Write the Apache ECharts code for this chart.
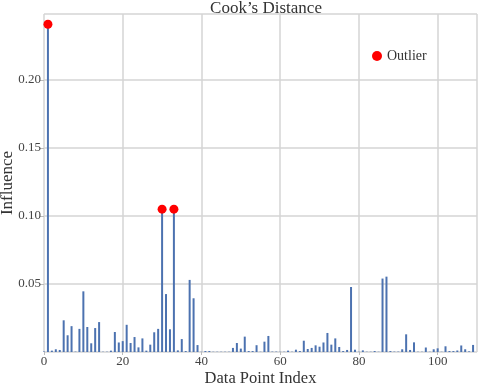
<!DOCTYPE html>
<html>
<head>
<meta charset="utf-8">
<script src="https://cdn.jsdelivr.net/npm/echarts@6/dist/echarts.min.js"></script>
<style>
  html, body { margin: 0; padding: 0; background: #fff; }
  #grafico { width: 480px; height: 384px; }
</style>
</head>
<body>
<div id="grafico"></div>
<script>
// Cook's distance per data point index (0..109)
const influencia = [
  0.0003, 0.241, 0.001, 0.002, 0.0015, 0.0233, 0.0123, 0.019, 0.0003, 0.017,
  0.0446, 0.0184, 0.0064, 0.0176, 0.022, 0.0002, 0.0002, 0.001, 0.0147, 0.007,
  0.008, 0.020, 0.0066, 0.011, 0.0034, 0.010, 0.001, 0.0054, 0.0145, 0.017,
  0.105, 0.0426, 0.0167, 0.105, 0.0012, 0.0095, 0.0007, 0.053, 0.0395, 0.0051,
  0.0002, 0.0007, 0.0007, 0.0002, 0.0002, 0.0002, 0.0002, 0.0002, 0.003, 0.0066,
  0.0025, 0.0113, 0.0007, 0.0007, 0.005, 0.0002, 0.0076, 0.0118, 0.0003, 0.0003,
  0.0002, 0.0002, 0.001, 0.0002, 0.0017, 0.0007, 0.0083, 0.0022, 0.003, 0.0049,
  0.0039, 0.007, 0.014, 0.0054, 0.010, 0.0037, 0.0007, 0.0015, 0.0478, 0.0017,
  0.0002, 0.0012, 0.0002, 0.0002, 0.0007, 0.0002, 0.054, 0.0554, 0.0007, 0.0003,
  0.0003, 0.002, 0.013, 0.0015, 0.0071, 0.0002, 0.0002, 0.0033, 0.0002, 0.002,
  0.0027, 0.0002, 0.0042, 0.0007, 0.0007, 0.0011, 0.0048, 0.002, 0.0005, 0.0052
]
const outlierIdx = [1, 30, 33]

const xTicks = { min: 0, max: 110, interval: 20 }
const yTicks = { min: 0, max: 0.2485, interval: 0.05 }

const fuente = 'Liberation Serif, DejaVu Serif, serif'
const grisGrid = '#d4d4d4'

let myChart = echarts.init(document.getElementById('grafico'), null, { renderer: 'canvas' })

let dataBarras = influencia.map((v, i) => [i, v])
let dataOutliers = outlierIdx.map(i => [i, influencia[i]])

let option = {
  animation: false,
  backgroundColor: '#ffffff',
  textStyle: { fontFamily: fuente },
  title: {
    text: 'Cook\u2019s Distance',
    left: 261,
    textAlign: 'center',
    top: -5,
    textStyle: { fontFamily: fuente, fontSize: 17, fontWeight: 'normal', color: '#333' }
  },
  legend: {
    data: ['Outlier'],
    left: 367,
    top: 44,
    icon: 'circle',
    itemWidth: 10,
    itemHeight: 10,
    itemGap: 4,
    itemStyle: { opacity: 1 },
    textStyle: { fontFamily: fuente, fontSize: 14, color: '#333' }
  },
  grid: {
    left: 44,
    right: 3,
    top: 14,
    bottom: 32,
    outerBoundsMode: 'none',
    containLabel: false
  },
  xAxis: {
    type: 'value',
    min: xTicks.min,
    max: xTicks.max,
    interval: xTicks.interval,
    name: 'Data Point Index',
    nameLocation: 'middle',
    nameGap: 18,
    nameMoveOverlap: false,
    nameTextStyle: { fontFamily: fuente, fontSize: 16.5, color: '#333' },
    axisLine: { show: false },
    axisTick: { show: true, length: 3, lineStyle: { color: '#bbb' } },
    axisLabel: { fontFamily: fuente, fontSize: 13, color: '#444', margin: 3, showMaxLabel: false },
    splitLine: { show: true, lineStyle: { color: grisGrid, width: 1.5 } }
  },
  yAxis: {
    type: 'value',
    min: yTicks.min,
    max: yTicks.max,
    interval: yTicks.interval,
    name: 'Influence',
    nameLocation: 'middle',
    nameGap: 28,
    nameMoveOverlap: false,
    nameTextStyle: { fontFamily: fuente, fontSize: 17, color: '#333' },
    axisLine: { show: false },
    axisTick: { show: true, length: 4, lineStyle: { color: '#bbb' } },
    axisLabel: {
      fontFamily: fuente, fontSize: 13, color: '#444', margin: 3,
      showMinLabel: false, showMaxLabel: false,
      formatter: v => v.toFixed(2)
    },
    splitLine: { show: true, lineStyle: { color: grisGrid, width: 1.5 } }
  },
  series: [
    {
      name: 'Influence',
      type: 'bar',
      data: dataBarras,
      barWidth: 2,
      itemStyle: { color: '#4c72b0' },
      z: 2
    },
    {
      name: 'Outlier',
      type: 'scatter',
      data: dataOutliers,
      symbol: 'circle',
      symbolSize: 9,
      itemStyle: { color: '#ff0000', opacity: 1 },
      z: 3
    }
  ]
}

myChart.setOption(option)
</script>
</body>
</html>
